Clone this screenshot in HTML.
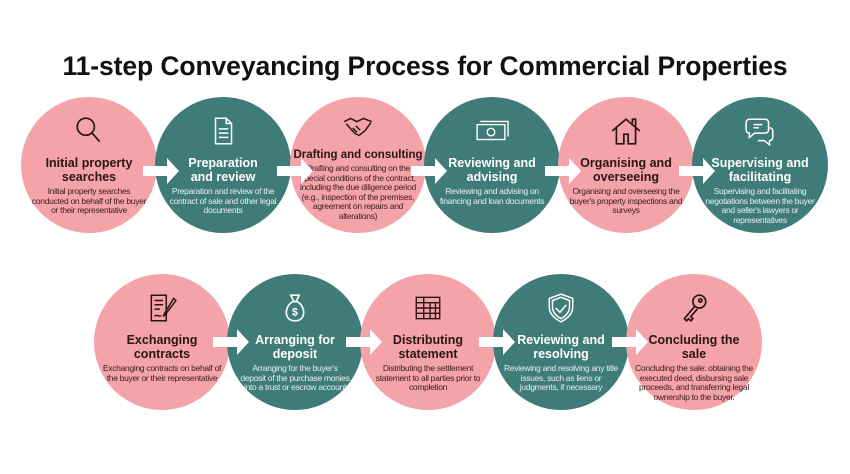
<!DOCTYPE html>
<html><head><meta charset="utf-8"><style>
body{margin:0;width:850px;height:474px;background:#fff;position:relative;overflow:hidden;font-family:"Liberation Sans",sans-serif}
h1{position:absolute;left:0;top:51px;width:850px;margin:0;text-align:center;font-size:26.5px;font-weight:bold;color:#111;letter-spacing:-0.1px}
.c{position:absolute;width:136px;height:136px;border-radius:50%;box-sizing:border-box;text-align:center}
.p{background:#f4a3a8;color:#2b1416}
.t{background:#3e7b79;color:#fff}
.ic{position:absolute;left:52px;top:18px;width:32px;height:32px}
.h{position:absolute;left:2px;right:2px;top:60px;font-weight:bold;font-size:12.5px;line-height:13.5px}
.d{position:absolute;left:12px;right:12px;font-size:8.5px;line-height:9.5px;letter-spacing:-0.3px}
.p .d{color:#3a1c1e}.t .d{color:#e6f0ef}
.a{position:absolute;width:36px;height:26px}
</style></head><body>
<h1>11-step Conveyancing Process for Commercial Properties</h1>

<div class="c p" style="left:21px;top:97px">
<svg class="ic" viewBox="0 0 30 30" fill="none" stroke="#2b1416" stroke-width="1.6"><circle cx="12" cy="11" r="8"/><path d="M18 17l7 8"/></svg>
<div class="h">Initial property<br>searches</div><div class="d" style="top:90px;left:8px;right:8px">Initial property searches conducted on behalf of the buyer or their representative</div></div>

<div class="c t" style="left:155px;top:97px">
<svg class="ic" viewBox="0 0 30 30" fill="none" stroke="#fff" stroke-width="1.4"><path d="M8 3h10l5 5v19H8z M18 3v5h5 M11 13h9 M11 17h9 M11 21h9"/></svg>
<div class="h">Preparation<br>and review</div><div class="d" style="top:90px">Preparation and review of the contract of sale and other legal documents</div></div>

<div class="c p" style="left:290px;top:97px">
<svg class="ic" viewBox="0 0 30 30" fill="none" stroke="#2b1416" stroke-width="1.4" style="top:14px"><path d="M2 10l6-3 6 3 6-3 8 3 M4 12l8 9 4 2 6-5 5-7 M10 16l4 4 M13 14l4 4"/></svg>
<div class="h" style="top:52px;left:0;right:0;font-size:11.5px">Drafting and consulting</div><div class="d" style="top:67px;left:10px;right:10px">Drafting and consulting on the special conditions of the contract, including the due diligence period (e.g., inspection of the premises, agreement on repairs and alterations)</div></div>

<div class="c t" style="left:424px;top:97px">
<svg class="ic" viewBox="0 0 30 30" fill="none" stroke="#fff" stroke-width="1.3" style="left:49px;width:36px"><rect x="2" y="9" width="26" height="14"/><path d="M5 6h26v14"/><circle cx="15" cy="16" r="3.5"/></svg>
<div class="h">Reviewing and<br>advising</div><div class="d" style="top:90px">Reviewing and advising on financing and loan documents</div></div>

<div class="c p" style="left:558px;top:97px">
<svg class="ic" viewBox="0 0 30 30" fill="none" stroke="#2b1416" stroke-width="1.6"><path d="M2 15L15 4l13 11 M6 12v15h7v-9h4v9h7V12 M21 8V4h3v7"/></svg>
<div class="h">Organising and<br>overseeing</div><div class="d" style="top:90px;left:10px;right:10px">Organising and overseeing the buyer's property inspections and surveys</div></div>

<div class="c t" style="left:692px;top:97px">
<svg class="ic" viewBox="0 0 30 30" fill="none" stroke="#fff" stroke-width="1.4"><path d="M4 4h16a3 3 0 013 3v7a3 3 0 01-3 3H10l-5 4v-4a3 3 0 01-3-3V7a3 3 0 013-3z M9 9h8 M9 12h5 M24 12a3 3 0 013 3v6a3 3 0 01-3 3v4l-5-4h-6"/></svg>
<div class="h">Supervising and<br>facilitating</div><div class="d" style="top:90px;left:9px;right:9px">Supervising and facilitating negotiations between the buyer and seller's lawyers or representatives</div></div>

<div class="c p" style="left:94px;top:274px">
<svg class="ic" viewBox="0 0 30 30" fill="none" stroke="#2b1416" stroke-width="1.4"><path d="M5 3h14v24H5z M8 8h8 M8 12h8 M8 16h5 M8 23c2-3 4 1 6-1 M26 6l-8 13-2 4 3-3 9-12z"/></svg>
<div class="h">Exchanging<br>contracts</div><div class="d" style="top:90px;left:8px;right:8px">Exchanging contracts on behalf of the buyer or their representative</div></div>

<div class="c t" style="left:227px;top:274px">
<svg class="ic" viewBox="0 0 30 30" fill="none" stroke="#fff" stroke-width="1.5"><path d="M11 3h8l-3 6h-2z M13 9C5 13 4 27 15 27s10-14 2-18"/><text x="15" y="22" font-size="10" fill="#fff" stroke="none" text-anchor="middle" font-weight="bold">$</text></svg>
<div class="h">Arranging for<br>deposit</div><div class="d" style="top:90px">Arranging for the buyer's deposit of the purchase monies into a trust or escrow account</div></div>

<div class="c p" style="left:360px;top:274px">
<svg class="ic" viewBox="0 0 30 30" fill="none" stroke="#2b1416" stroke-width="1.3"><rect x="4" y="5" width="22" height="20"/><path d="M4 10h22 M4 15h22 M4 20h22 M11 5v20 M17 10v15 M22 10v15"/></svg>
<div class="h">Distributing<br>statement</div><div class="d" style="top:90px;left:8px;right:8px">Distributing the settlement statement to all parties prior to completion</div></div>

<div class="c t" style="left:493px;top:274px">
<svg class="ic" viewBox="0 0 30 30" fill="none" stroke="#fff" stroke-width="1.4"><path d="M15 2l11 4v8c0 7-5 11-11 14C9 25 4 21 4 14V6z M15 5l8 3v6c0 5-4 9-8 11-4-2-8-6-8-11V8z M10 15l4 4 6-7"/></svg>
<div class="h">Reviewing and<br>resolving</div><div class="d" style="top:90px;left:10px;right:10px">Reviewing and resolving any title issues, such as liens or judgments, if necessary</div></div>

<div class="c p" style="left:626px;top:274px">
<svg class="ic" viewBox="0 0 30 30" fill="none" stroke="#2b1416" stroke-width="1.6"><circle cx="20" cy="9" r="6"/><circle cx="21" cy="8" r="1.5"/><path d="M16 13L6 25l2 2 2-2 2 2 2-2-2-2 6-7"/></svg>
<div class="h">Concluding the<br>sale</div><div class="d" style="top:90px;left:8px;right:8px">Concluding the sale: obtaining the executed deed, disbursing sale proceeds, and transferring legal ownership to the buyer.</div></div>

<svg class="a" style="left:143px;top:158px" viewBox="0 0 36 26"><path d="M0 8h24V0l12 13-12 13v-8H0z" fill="#fff"/></svg>
<svg class="a" style="left:277px;top:158px" viewBox="0 0 36 26"><path d="M0 8h24V0l12 13-12 13v-8H0z" fill="#fff"/></svg>
<svg class="a" style="left:411px;top:158px" viewBox="0 0 36 26"><path d="M0 8h24V0l12 13-12 13v-8H0z" fill="#fff"/></svg>
<svg class="a" style="left:545px;top:158px" viewBox="0 0 36 26"><path d="M0 8h24V0l12 13-12 13v-8H0z" fill="#fff"/></svg>
<svg class="a" style="left:679px;top:158px" viewBox="0 0 36 26"><path d="M0 8h24V0l12 13-12 13v-8H0z" fill="#fff"/></svg>
<svg class="a" style="left:213px;top:329px" viewBox="0 0 36 26"><path d="M0 8h24V0l12 13-12 13v-8H0z" fill="#fff"/></svg>
<svg class="a" style="left:346px;top:329px" viewBox="0 0 36 26"><path d="M0 8h24V0l12 13-12 13v-8H0z" fill="#fff"/></svg>
<svg class="a" style="left:479px;top:329px" viewBox="0 0 36 26"><path d="M0 8h24V0l12 13-12 13v-8H0z" fill="#fff"/></svg>
<svg class="a" style="left:612px;top:329px" viewBox="0 0 36 26"><path d="M0 8h24V0l12 13-12 13v-8H0z" fill="#fff"/></svg>
</body></html>
